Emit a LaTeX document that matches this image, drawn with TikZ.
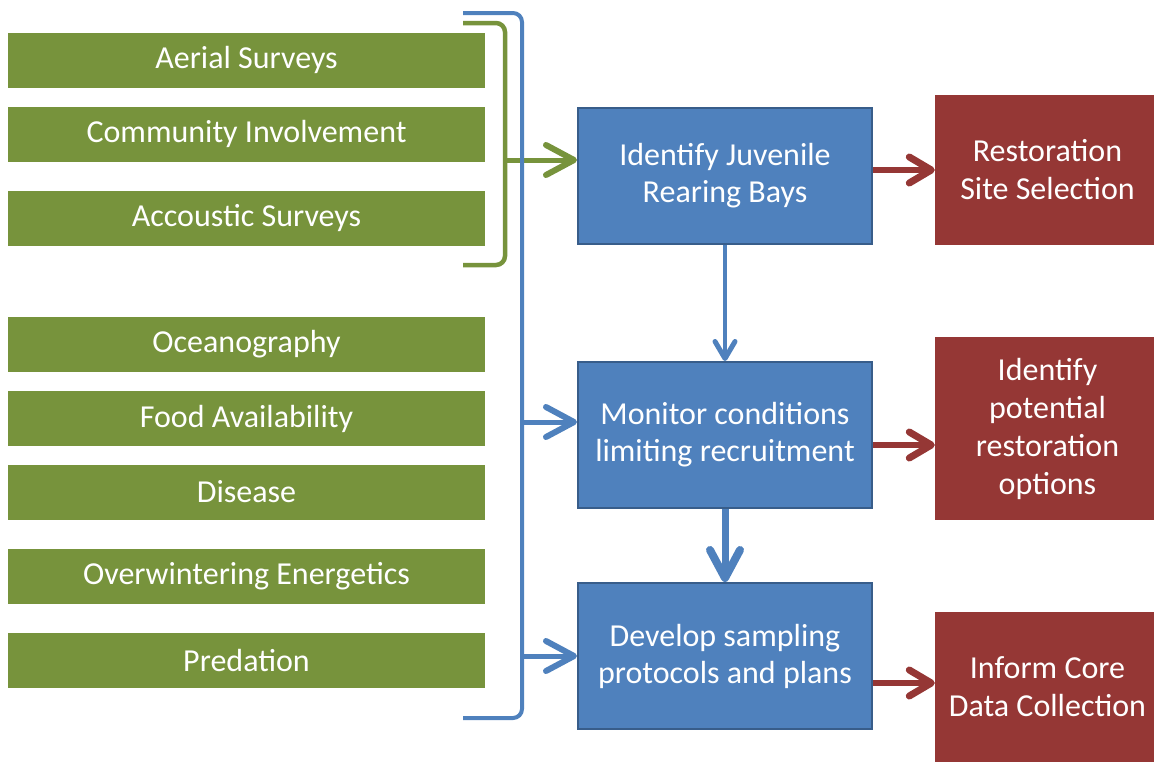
\documentclass[tikz,border=0pt]{standalone}
\usepackage{fontspec}
\setmainfont{Carlito}
\usetikzlibrary{arrows.meta,positioning,calc}
\definecolor{olive}{RGB}{119,147,60}
\definecolor{steel}{RGB}{79,129,189}
\definecolor{steeldark}{RGB}{56,93,138}
\definecolor{wine}{RGB}{149,55,53}
\tikzset{
  srcbox/.style={fill=olive,text=white,minimum width=477pt,minimum height=55pt,
    inner sep=0pt,font=\fontsize{32}{37}\selectfont},
  stepbox/.style={fill=steel,draw=steeldark,line width=2pt,text=white,minimum width=294pt,
    minimum height=#1,align=center,inner sep=0pt,font=\fontsize{32}{37}\selectfont},
  stepbox/.default=146pt,
  goalbox/.style={fill=wine,text=white,minimum width=225pt,minimum height=#1,
    align=center,inner sep=0pt,font=\fontsize{32}{38}\selectfont},
  goalbox/.default=150pt,
  brace/.style={draw=#1,line width=4.5pt,rounded corners=9pt},
  barb/.style n args={3}{-{Straight Barb[length=#1,width=#2,line width=#3 0,round]}},
  flow/.style={draw=#1,line width=5pt,barb={28pt}{30pt}{6pt}},
  flow/.default=steel,
}
\begin{document}
\begin{tikzpicture}[x=1pt,y=-1pt]
  \useasboundingbox (0,0) rectangle (1154,761);
  % inputs
  \node[srcbox] (aerial) at (246.5,60) {Aerial Surveys};
  \node[srcbox] (community) at (246.5,134) {Community Involvement};
  \node[srcbox] (acoustic) at (246.5,218.5) {Accoustic Surveys};
  \node[srcbox] (ocean) at (246.5,344.5) {Oceanography};
  \node[srcbox] (food) at (246.5,418.5) {Food Availability};
  \node[srcbox] (disease) at (246.5,492) {Disease};
  \node[srcbox] (winter) at (246.5,576.5) {Overwintering Energetics};
  \node[srcbox] (predation) at (246.5,660.5) {Predation};
  % steps
  \node[stepbox=136pt] (bays) at (725,176) {Identify Juvenile\\Rearing Bays};
  \node[stepbox] (monitor) at (725,435) {Monitor conditions\\limiting recruitment};
  \node[stepbox] (develop) at (725,656) {Develop sampling\\protocols and plans};
  % outcomes
  \node[goalbox] (site) at (1047.5,170) {Restoration\\Site Selection};
  \node[goalbox=183pt] (options) at (1047.5,428.5) {Identify\\potential\\restoration\\options};
  \node[goalbox] (core) at (1047.5,687) {Inform Core\\Data Collection};
  % brackets
  \coordinate (gtop) at (463,23);
  \coordinate (gbot) at (463,265);
  \coordinate (gmid) at (505,160);
  \coordinate (btop) at (463,13);
  \coordinate (bbot) at (463,718);
  \coordinate (bmid) at (522,422);
  \coordinate (blow) at (522,656);
  \draw[brace=olive] (gtop) -| (gmid) |- (gbot);
  \draw[flow=olive] (gmid) -- (gmid-|bays.west);
  \draw[brace=steel,line width=4pt] (btop) -| (bmid) |- (bbot);
  \draw[flow] (bmid) -- (bmid-|monitor.west);
  \draw[flow] (blow) -- (blow-|develop.west);
  % between steps
  \draw[flow,line width=4pt,barb={17pt}{20pt}{5pt}] (bays.south) -- (monitor.north);
  \draw[flow,line width=7pt,barb={28pt}{30pt}{8pt}] (monitor.south) -- (develop.north);
  % outcomes
  \coordinate (mout) at ($(monitor.east)+(0,10)$);
  \coordinate (dout) at ($(develop.east)+(0,27)$);
  \draw[flow=wine,line width=6pt,barb={22pt}{26pt}{7pt}] (site.west-|bays.east) -- (site.west);
  \draw[flow=wine,line width=6pt,barb={22pt}{26pt}{7pt}] (mout) -- (mout-|options.west);
  \draw[flow=wine,line width=6pt,barb={22pt}{26pt}{7pt}] (dout) -- (dout-|core.west);
\end{tikzpicture}
\end{document}
